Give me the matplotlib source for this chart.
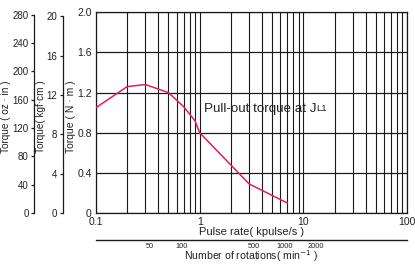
import matplotlib
matplotlib.use("Agg")
import matplotlib.pyplot as plt

plt.rcParams['font.family'] = ['Liberation Sans Narrow', 'Liberation Sans', 'DejaVu Sans']

# pull-out torque curve
pulse_rate = [0.1, 0.2, 0.3, 0.5, 0.7, 0.9, 1.0, 3.0, 7.0]   # kpulse/s
torque_nm = [1.05, 1.26, 1.28, 1.20, 1.06, 0.92, 0.80, 0.29, 0.10]

nm_ticks = [0, 0.4, 0.8, 1.2, 1.6, 2.0]
kgf_ticks = [0, 4, 8, 12, 16, 20]
ozin_ticks = [0, 40, 80, 120, 160, 200, 240, 280]
rpm_ticks = [50, 100, 500, 1000, 2000]
xtick_vals = [0.1, 1, 10, 100]
xtick_labels = ['0.1', '1', '10', '100']

NM_TO_KGFCM = 1 / 0.0980665
NM_TO_OZIN = 1 / 0.00706155
RPM_PER_KPPS = 150.0

line_col = '#e61c5c'
grid_col = '#1a1a1a'
txt_col = '#222222'

fig = plt.figure(figsize=(4.15, 2.65), dpi=100)
ax = fig.add_axes([0.2313, 0.1962, 0.7494, 0.7574])

ax.plot(pulse_rate, torque_nm, color=line_col, lw=1.1, zorder=3)
ax.set_xscale('log')
ax.set_xlim(0.1, 100)
ax.set_ylim(0, 2.0)
ax.set_xticks(xtick_vals)
ax.set_xticklabels(xtick_labels)
ax.set_yticks(nm_ticks)
ax.set_yticklabels(['0', '0.4', '0.8', '1.2', '1.6', '2.0'])
ax.grid(True, which='both', axis='x', color=grid_col, lw=0.8)
ax.grid(True, which='major', axis='y', color=grid_col, lw=0.9)
ax.tick_params(which='both', length=0, labelsize=7.5, colors=txt_col)
ax.tick_params(axis='x', pad=3)
ax.tick_params(axis='y', pad=3)
for s in ax.spines.values():
    s.set_color(grid_col)
    s.set_linewidth(0.9)

ax.set_ylabel('Torque ( N · m )', fontsize=7.5, color=txt_col)
ax.yaxis.label.set_verticalalignment('center')
ax.yaxis.set_label_coords(-0.079, 0.48)
ax.set_xlabel('Pulse rate( kpulse/s )', fontsize=8, color=txt_col)
ax.xaxis.label.set_verticalalignment('center')
ax.xaxis.set_label_coords(0.5, -0.095)

t = ax.text(0.348, 0.52, 'Pull-out torque at J', transform=ax.transAxes,
            fontsize=9.6, color=txt_col, va='center', ha='left',
            family=['Liberation Sans', 'DejaVu Sans'])
ax.annotate('L1', xy=(1.0, 0.1), xycoords=t, va='bottom', ha='left',
            fontsize=6.8, color=txt_col, family=['Liberation Sans', 'DejaVu Sans'])

# extra torque scales on the left
def side_axis(limit, ticks, offset, label, label_x):
    tw = ax.twinx()
    tw.set_ylim(0, limit)
    tw.yaxis.set_ticks_position('left')
    tw.yaxis.set_label_position('left')
    for name in ('top', 'right', 'bottom'):
        tw.spines[name].set_visible(False)
    tw.spines['left'].set_position(('axes', offset))
    tw.spines['left'].set_bounds(ticks[0], ticks[-1])
    tw.spines['left'].set_color(grid_col)
    tw.spines['left'].set_linewidth(0.9)
    tw.set_yticks(ticks)
    tw.tick_params(axis='y', length=2.5, width=0.9, pad=1.5, labelsize=7,
                   colors=txt_col)
    tw.set_ylabel(label, fontsize=7.2, color=txt_col)
    tw.yaxis.label.set_verticalalignment('center')
    tw.yaxis.set_label_coords(label_x, 0.48)
    return tw

side_axis(2.0 * NM_TO_KGFCM, kgf_ticks, -0.107, 'Torque( kgf·cm )', -0.178)
side_axis(2.0 * NM_TO_OZIN, ozin_ticks, -0.198, 'Torque ( oz · in )', -0.289)

# rotation speed scale under the pulse rate axis
sec = ax.secondary_xaxis(-0.1345, functions=(lambda x: x * RPM_PER_KPPS,
                                              lambda r: r / RPM_PER_KPPS))
sec.set_xticks(rpm_ticks)
sec.set_xticklabels([str(v) for v in rpm_ticks])
sec.xaxis.set_minor_locator(matplotlib.ticker.NullLocator())
sec.tick_params(length=0, labelsize=5.3, pad=1.8, colors=txt_col)
sec.spines['bottom'].set_color(grid_col)
sec.spines['bottom'].set_linewidth(1.0)
sec.set_xlabel('Number of rotations( min$^{-1}$ )', fontsize=7.6, color=txt_col,
               labelpad=-1.0)

fig.savefig('out.png', dpi=100)
